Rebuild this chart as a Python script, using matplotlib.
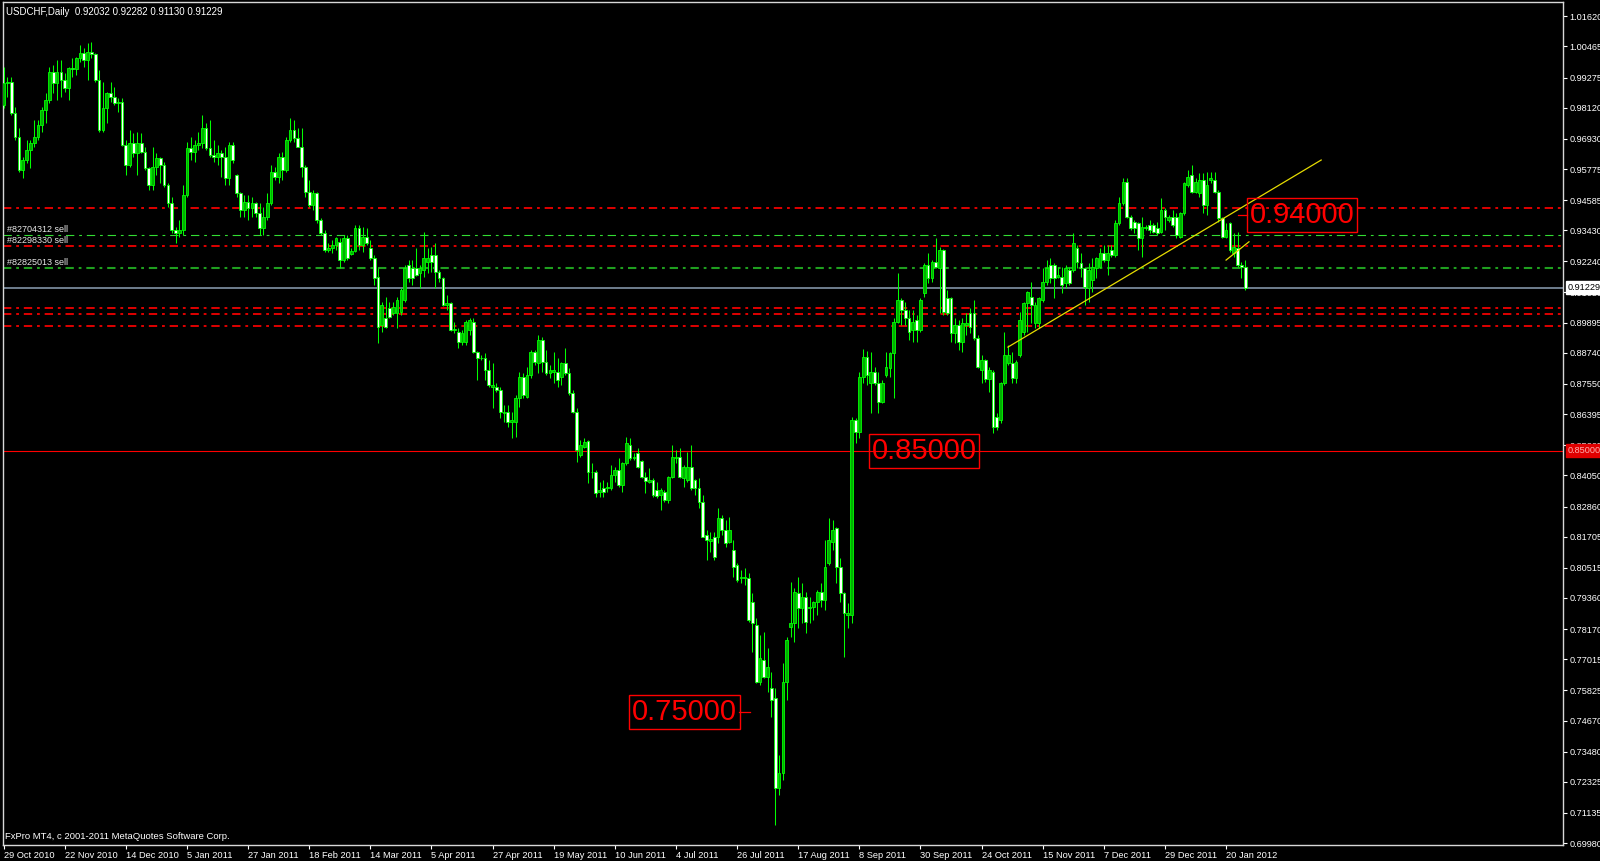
import matplotlib
matplotlib.use('Agg')
import matplotlib.pyplot as plt
import matplotlib.transforms as mtransforms
import numpy as np

plt.rcParams['font.family'] = ['Liberation Sans', 'DejaVu Sans']
plt.rcParams['lines.scale_dashes'] = False

# --- daily USDCHF bars, 29 Oct 2010 .. 27 Jan 2012 ---
open_ = [
    0.9823, 0.9906, 0.9912, 0.9791, 0.9701, 0.9574, 0.9612, 0.9650, 0.9676, 0.9701,
    0.9746, 0.9803, 0.9842, 0.9950, 0.9906, 0.9950, 0.9918, 0.9886, 0.9963, 0.9959,
    1.0001, 1.0023, 0.9995, 1.0027, 1.0018, 0.9918, 0.9727, 0.9810, 0.9867, 0.9854,
    0.9829, 0.9835, 0.9670, 0.9593, 0.9676, 0.9638, 0.9676, 0.9644, 0.9580, 0.9516,
    0.9587, 0.9619, 0.9593, 0.9516, 0.9446, 0.9344, 0.9334, 0.9344, 0.9478, 0.9657,
    0.9644, 0.9670, 0.9676, 0.9733, 0.9657, 0.9631, 0.9625, 0.9640, 0.9625, 0.9542,
    0.9670, 0.9555, 0.9485, 0.9421, 0.9453, 0.9427, 0.9446, 0.9408, 0.9351, 0.9395,
    0.9446, 0.9568, 0.9548, 0.9625, 0.9574, 0.9689, 0.9727, 0.9695, 0.9663, 0.9587,
    0.9491, 0.9440, 0.9485, 0.9382, 0.9331, 0.9268, 0.9274, 0.9287, 0.9300, 0.9229,
    0.9312, 0.9251, 0.9264, 0.9351, 0.9287, 0.9319, 0.9274, 0.9236, 0.9166, 0.8981,
    0.9006, 0.9044, 0.9025, 0.9025, 0.9032, 0.9076, 0.9210, 0.9198, 0.9198, 0.9178,
    0.9191, 0.9223, 0.9249, 0.9249, 0.9185, 0.9159, 0.9057, 0.9064, 0.8962, 0.8955,
    0.8917, 0.8917, 0.8962, 0.8993, 0.8879, 0.8853, 0.8853, 0.8808, 0.8745, 0.8745,
    0.8732, 0.8643, 0.8649, 0.8611, 0.8611, 0.8700, 0.8783, 0.8706, 0.8789, 0.8879,
    0.8834, 0.8923, 0.8840, 0.8796, 0.8802, 0.8802, 0.8783, 0.8834, 0.8796, 0.8719,
    0.8649, 0.8483, 0.8515, 0.8537, 0.8417, 0.8419, 0.8343, 0.8358, 0.8355, 0.8355,
    0.8407, 0.8426, 0.8368, 0.8451, 0.8521, 0.8470, 0.8489, 0.8460, 0.8400, 0.8381,
    0.8387, 0.8349, 0.8330, 0.8343, 0.8311, 0.8400, 0.8470, 0.8477, 0.8394, 0.8387,
    0.8438, 0.8387, 0.8356, 0.8305, 0.8177, 0.8155, 0.8171, 0.8171, 0.8241, 0.8196,
    0.8151, 0.8120, 0.8062, 0.8011, 0.8011, 0.8011, 0.7922, 0.7833, 0.7616, 0.7699,
    0.7635, 0.7590, 0.7552, 0.7207, 0.7265, 0.7616, 0.7826, 0.7839, 0.7954, 0.7896,
    0.7941, 0.7896, 0.7903, 0.7922, 0.7960, 0.7928, 0.8069, 0.8151, 0.8202, 0.8056,
    0.7954, 0.7871, 0.7871, 0.8617, 0.8572, 0.8780, 0.8860, 0.8757, 0.8802, 0.8757,
    0.8687, 0.8790, 0.8815, 0.8872, 0.8993, 0.9076, 0.9038, 0.9006, 0.8961, 0.9000,
    0.8961, 0.9102, 0.9210, 0.9159, 0.9223, 0.9197, 0.9268, 0.9083, 0.9083, 0.8949,
    0.8981, 0.8917, 0.8981, 0.9025, 0.9025, 0.8929, 0.8808, 0.8847, 0.8775, 0.8802,
    0.8630, 0.8617, 0.8757, 0.8834, 0.8834, 0.8777, 0.8866, 0.8955, 0.9063, 0.9089,
    0.8987, 0.8987, 0.9076, 0.9146, 0.9210, 0.9210, 0.9166, 0.9166, 0.9140, 0.9191,
    0.9191, 0.9274, 0.9217, 0.9197, 0.9121, 0.9153, 0.9197, 0.9204, 0.9255, 0.9229,
    0.9268, 0.9249, 0.9370, 0.9446, 0.9529, 0.9395, 0.9376, 0.9370, 0.9312, 0.9351,
    0.9363, 0.9363, 0.9351, 0.9338, 0.9421, 0.9382, 0.9395, 0.9395, 0.9319, 0.9408,
    0.9516, 0.9555, 0.9491, 0.9484, 0.9535, 0.9440, 0.9535, 0.9535, 0.9491, 0.9389,
    0.9319, 0.9370, 0.9255, 0.9274, 0.9210, 0.92032,
]
high = [
    0.9969, 0.9931, 0.9931, 0.9816, 0.9733, 0.9625, 0.9689, 0.9689, 0.9765, 0.9765,
    0.9816, 0.9867, 0.9969, 0.9976, 0.9995, 0.9995, 0.9944, 0.9969, 1.0001, 1.0005,
    1.0052, 1.0039, 1.0059, 1.0062, 1.0020, 0.9957, 0.9912, 0.9874, 0.9912, 0.9893,
    0.9848, 0.9848, 0.9689, 0.9727, 0.9714, 0.9721, 0.9714, 0.9663, 0.9584, 0.9663,
    0.9638, 0.9625, 0.9606, 0.9523, 0.9472, 0.9357, 0.9382, 0.9516, 0.9682, 0.9701,
    0.9689, 0.9721, 0.9784, 0.9752, 0.9765, 0.9689, 0.9670, 0.9650, 0.9663, 0.9682,
    0.9682, 0.9560, 0.9490, 0.9478, 0.9478, 0.9472, 0.9453, 0.9446, 0.9433, 0.9485,
    0.9593, 0.9587, 0.9638, 0.9644, 0.9701, 0.9772, 0.9765, 0.9733, 0.9733, 0.9593,
    0.9536, 0.9497, 0.9490, 0.9389, 0.9344, 0.9293, 0.9306, 0.9319, 0.9312, 0.9325,
    0.9325, 0.9274, 0.9363, 0.9363, 0.9357, 0.9351, 0.9306, 0.9249, 0.9198, 0.9070,
    0.9089, 0.9070, 0.9070, 0.9089, 0.9121, 0.9210, 0.9229, 0.9229, 0.9274, 0.9210,
    0.9338, 0.9274, 0.9280, 0.9293, 0.9191, 0.9166, 0.9095, 0.9070, 0.8993, 0.8968,
    0.8962, 0.9000, 0.9006, 0.9006, 0.8883, 0.8866, 0.8872, 0.8847, 0.8834, 0.8757,
    0.8745, 0.8674, 0.8674, 0.8649, 0.8713, 0.8802, 0.8796, 0.8821, 0.8885, 0.8885,
    0.8942, 0.8936, 0.8885, 0.8827, 0.8879, 0.8853, 0.8840, 0.8891, 0.8815, 0.8732,
    0.8662, 0.8540, 0.8547, 0.8540, 0.8451, 0.8426, 0.8381, 0.8387, 0.8381, 0.8445,
    0.8438, 0.8470, 0.8455, 0.8553, 0.8550, 0.8489, 0.8511, 0.8464, 0.8419, 0.8432,
    0.8394, 0.8381, 0.8355, 0.8349, 0.8404, 0.8521, 0.8502, 0.8509, 0.8445, 0.8496,
    0.8521, 0.8390, 0.8394, 0.8330, 0.8196, 0.8190, 0.8190, 0.8279, 0.8253, 0.8234,
    0.8247, 0.8158, 0.8069, 0.8043, 0.8049, 0.8030, 0.7954, 0.7858, 0.7794, 0.7807,
    0.7743, 0.7654, 0.7590, 0.7335, 0.7686, 0.7788, 0.7998, 0.7973, 0.8017, 0.7992,
    0.7960, 0.7941, 0.7925, 0.7966, 0.7992, 0.8158, 0.8241, 0.8234, 0.8209, 0.8088,
    0.7960, 0.7916, 0.8630, 0.8623, 0.8800, 0.8890, 0.8880, 0.8879, 0.8821, 0.8802,
    0.8770, 0.8879, 0.8879, 0.9006, 0.9178, 0.9083, 0.9070, 0.9038, 0.9038, 0.9019,
    0.9083, 0.9217, 0.9255, 0.9229, 0.9312, 0.9280, 0.9272, 0.9115, 0.9089, 0.9006,
    0.9000, 0.9006, 0.9025, 0.9044, 0.9076, 0.8942, 0.8866, 0.8850, 0.8821, 0.8808,
    0.8643, 0.8764, 0.8955, 0.8904, 0.8879, 0.8847, 0.9032, 0.9070, 0.9112, 0.9146,
    0.9070, 0.9089, 0.9197, 0.9229, 0.9236, 0.9217, 0.9204, 0.9204, 0.9210, 0.9204,
    0.9331, 0.9287, 0.9255, 0.9204, 0.9217, 0.9236, 0.9242, 0.9274, 0.9287, 0.9287,
    0.9287, 0.9382, 0.9472, 0.9542, 0.9542, 0.9401, 0.9382, 0.9376, 0.9395, 0.9363,
    0.9382, 0.9370, 0.9376, 0.9465, 0.9427, 0.9401, 0.9421, 0.9408, 0.9414, 0.9529,
    0.9574, 0.9593, 0.9542, 0.9561, 0.9561, 0.9567, 0.9567, 0.9567, 0.9497, 0.9395,
    0.9370, 0.9376, 0.9331, 0.9338, 0.9223, 0.92282,
]
low = [
    0.9810, 0.9854, 0.9784, 0.9689, 0.9568, 0.9542, 0.9599, 0.9580, 0.9663, 0.9689,
    0.9721, 0.9752, 0.9829, 0.9867, 0.9842, 0.9854, 0.9874, 0.9842, 0.9931, 0.9937,
    0.9988, 0.9969, 0.9918, 1.0001, 0.9912, 0.9721, 0.9721, 0.9752, 0.9835, 0.9823,
    0.9797, 0.9665, 0.9555, 0.9587, 0.9625, 0.9555, 0.9638, 0.9574, 0.9497, 0.9497,
    0.9555, 0.9523, 0.9510, 0.9433, 0.9331, 0.9293, 0.9319, 0.9325, 0.9472, 0.9612,
    0.9606, 0.9650, 0.9657, 0.9650, 0.9625, 0.9606, 0.9593, 0.9548, 0.9516, 0.9516,
    0.9599, 0.9472, 0.9395, 0.9395, 0.9382, 0.9395, 0.9395, 0.9325, 0.9325, 0.9382,
    0.9440, 0.9536, 0.9523, 0.9536, 0.9568, 0.9682, 0.9682, 0.9660, 0.9548, 0.9472,
    0.9433, 0.9421, 0.9370, 0.9325, 0.9261, 0.9259, 0.9255, 0.9268, 0.9198, 0.9223,
    0.9229, 0.9249, 0.9261, 0.9268, 0.9261, 0.9287, 0.9229, 0.9134, 0.8910, 0.8955,
    0.8968, 0.9006, 0.9019, 0.8968, 0.9019, 0.9070, 0.9146, 0.9134, 0.9168, 0.9121,
    0.9166, 0.9178, 0.9185, 0.9121, 0.9146, 0.9053, 0.9038, 0.8958, 0.8949, 0.8891,
    0.8904, 0.8904, 0.8942, 0.8872, 0.8770, 0.8847, 0.8770, 0.8745, 0.8662, 0.8725,
    0.8623, 0.8611, 0.8592, 0.8547, 0.8553, 0.8668, 0.8700, 0.8700, 0.8777, 0.8827,
    0.8796, 0.8802, 0.8789, 0.8777, 0.8757, 0.8745, 0.8751, 0.8790, 0.8713, 0.8643,
    0.8457, 0.8477, 0.8509, 0.8375, 0.8394, 0.8324, 0.8324, 0.8324, 0.8343, 0.8349,
    0.8381, 0.8362, 0.8343, 0.8445, 0.8464, 0.8464, 0.8432, 0.8394, 0.8336, 0.8375,
    0.8324, 0.8317, 0.8273, 0.8304, 0.8298, 0.8394, 0.8451, 0.8394, 0.8362, 0.8381,
    0.8350, 0.8330, 0.8279, 0.8168, 0.8081, 0.8113, 0.8081, 0.8145, 0.8177, 0.8132,
    0.8145, 0.8017, 0.7998, 0.7992, 0.7986, 0.7845, 0.7730, 0.7612, 0.7603, 0.7628,
    0.7577, 0.7482, 0.7067, 0.7182, 0.7239, 0.7545, 0.7788, 0.7769, 0.7820, 0.7839,
    0.7801, 0.7839, 0.7852, 0.7871, 0.7903, 0.7890, 0.8062, 0.8120, 0.7992, 0.7922,
    0.7711, 0.7820, 0.7839, 0.8528, 0.8550, 0.8760, 0.8750, 0.8643, 0.8751, 0.8643,
    0.8681, 0.8783, 0.8783, 0.8700, 0.8987, 0.8981, 0.8981, 0.8923, 0.8917, 0.8917,
    0.8955, 0.9089, 0.9140, 0.9146, 0.9197, 0.9025, 0.9019, 0.9019, 0.8917, 0.8910,
    0.8885, 0.8879, 0.8942, 0.8949, 0.8923, 0.8815, 0.8757, 0.8764, 0.8725, 0.8566,
    0.8579, 0.8604, 0.8752, 0.8828, 0.8757, 0.8757, 0.8859, 0.8942, 0.8955, 0.8987,
    0.8968, 0.8968, 0.9070, 0.9134, 0.9140, 0.9083, 0.9159, 0.9102, 0.9121, 0.9134,
    0.9185, 0.9197, 0.9166, 0.9057, 0.9070, 0.9108, 0.9159, 0.9197, 0.9223, 0.9172,
    0.9242, 0.9242, 0.9363, 0.9440, 0.9389, 0.9344, 0.9331, 0.9268, 0.9242, 0.9344,
    0.9331, 0.9331, 0.9325, 0.9331, 0.9344, 0.9376, 0.9357, 0.9312, 0.9312, 0.9401,
    0.9510, 0.9484, 0.9484, 0.9472, 0.9408, 0.9401, 0.9523, 0.9484, 0.9376, 0.9312,
    0.9312, 0.9261, 0.9242, 0.9204, 0.9160, 0.91130,
]
close = [
    0.9906, 0.9912, 0.9791, 0.9701, 0.9574, 0.9612, 0.9650, 0.9676, 0.9701, 0.9746,
    0.9803, 0.9842, 0.9950, 0.9906, 0.9950, 0.9918, 0.9886, 0.9963, 0.9959, 1.0001,
    1.0023, 0.9995, 1.0027, 1.0018, 0.9918, 0.9727, 0.9810, 0.9867, 0.9854, 0.9829,
    0.9835, 0.9670, 0.9593, 0.9676, 0.9638, 0.9676, 0.9644, 0.9580, 0.9516, 0.9587,
    0.9619, 0.9593, 0.9516, 0.9446, 0.9344, 0.9334, 0.9344, 0.9478, 0.9657, 0.9644,
    0.9670, 0.9676, 0.9733, 0.9657, 0.9631, 0.9625, 0.9640, 0.9625, 0.9542, 0.9670,
    0.9612, 0.9485, 0.9421, 0.9453, 0.9427, 0.9446, 0.9408, 0.9351, 0.9395, 0.9446,
    0.9568, 0.9548, 0.9625, 0.9574, 0.9689, 0.9727, 0.9695, 0.9663, 0.9587, 0.9491,
    0.9440, 0.9485, 0.9382, 0.9331, 0.9268, 0.9274, 0.9287, 0.9312, 0.9229, 0.9312,
    0.9236, 0.9264, 0.9351, 0.9287, 0.9319, 0.9293, 0.9236, 0.9159, 0.8974, 0.9057,
    0.8974, 0.9013, 0.9051, 0.9076, 0.9115, 0.9198, 0.9159, 0.9159, 0.9172, 0.9198,
    0.9236, 0.9236, 0.9223, 0.9185, 0.9159, 0.9057, 0.9064, 0.8962, 0.8966, 0.8917,
    0.8949, 0.8993, 0.9000, 0.8879, 0.8853, 0.8856, 0.8808, 0.8751, 0.8751, 0.8732,
    0.8649, 0.8649, 0.8611, 0.8617, 0.8700, 0.8783, 0.8713, 0.8789, 0.8879, 0.8840,
    0.8923, 0.8840, 0.8796, 0.8808, 0.8808, 0.8770, 0.8834, 0.8796, 0.8719, 0.8649,
    0.8502, 0.8521, 0.8534, 0.8419, 0.8419, 0.8336, 0.8349, 0.8343, 0.8362, 0.8407,
    0.8426, 0.8368, 0.8451, 0.8528, 0.8470, 0.8477, 0.8438, 0.8400, 0.8385, 0.8387,
    0.8330, 0.8327, 0.8349, 0.8311, 0.8400, 0.8477, 0.8477, 0.8400, 0.8438, 0.8438,
    0.8355, 0.8356, 0.8305, 0.8171, 0.8158, 0.8160, 0.8094, 0.8241, 0.8196, 0.8145,
    0.8196, 0.8056, 0.8005, 0.8015, 0.8017, 0.7852, 0.7839, 0.7616, 0.7705, 0.7635,
    0.7673, 0.7545, 0.7207, 0.7265, 0.7616, 0.7775, 0.7839, 0.7960, 0.7896, 0.7941,
    0.7845, 0.7903, 0.7922, 0.7960, 0.7928, 0.8056, 0.8158, 0.8196, 0.8056, 0.7954,
    0.7877, 0.7877, 0.8617, 0.8572, 0.8780, 0.8860, 0.8790, 0.8802, 0.8757, 0.8687,
    0.8757, 0.8821, 0.8872, 0.8993, 0.9076, 0.9038, 0.9006, 0.8955, 0.8993, 0.8961,
    0.9076, 0.9210, 0.9159, 0.9223, 0.9204, 0.9268, 0.9032, 0.9025, 0.8949, 0.8981,
    0.8917, 0.8987, 0.8987, 0.8974, 0.8929, 0.8821, 0.8847, 0.8775, 0.8808, 0.8592,
    0.8592, 0.8757, 0.8866, 0.8866, 0.8777, 0.8840, 0.9000, 0.9063, 0.9108, 0.9057,
    0.9057, 0.9083, 0.9146, 0.9197, 0.9159, 0.9159, 0.9172, 0.9134, 0.9197, 0.9140,
    0.9293, 0.9223, 0.9197, 0.9127, 0.9191, 0.9204, 0.9236, 0.9255, 0.9229, 0.9255,
    0.9249, 0.9370, 0.9446, 0.9529, 0.9395, 0.9351, 0.9351, 0.9312, 0.9357, 0.9357,
    0.9344, 0.9338, 0.9331, 0.9421, 0.9395, 0.9395, 0.9363, 0.9325, 0.9408, 0.9523,
    0.9548, 0.9491, 0.9529, 0.9535, 0.9440, 0.9516, 0.9542, 0.9491, 0.9389, 0.9319,
    0.9344, 0.9268, 0.9280, 0.9210, 0.9203, 0.91229,
]

date_labels = ['29 Oct 2010', '22 Nov 2010', '14 Dec 2010', '5 Jan 2011', '27 Jan 2011',
               '18 Feb 2011', '14 Mar 2011', '5 Apr 2011', '27 Apr 2011', '19 May 2011',
               '10 Jun 2011', '4 Jul 2011', '26 Jul 2011', '17 Aug 2011', '8 Sep 2011',
               '30 Sep 2011', '24 Oct 2011', '15 Nov 2011', '7 Dec 2011', '29 Dec 2011',
               '20 Jan 2012']
date_bars = list(range(0, 321, 16))

price_ticks = [1.01620, 1.00465, 0.99275, 0.98120, 0.96930, 0.95775, 0.94585, 0.93430,
               0.92240, 0.91050, 0.89895, 0.88740, 0.87550, 0.86395, 0.85205, 0.84050,
               0.82860, 0.81705, 0.80515, 0.79360, 0.78170, 0.77015, 0.75825, 0.74670,
               0.73480, 0.72325, 0.71135, 0.69980]

# horizontal levels
red_levels = [0.9427, 0.9283, 0.9046, 0.9024, 0.8977]
order_levels = [0.9324, 0.9200]
order_labels = ['#82704312 sell', '#82298330 sell', '#82825013 sell']
order_label_prices = [0.9324, 0.9283, 0.9200]
bid = 0.91229
target_line = 0.85000

# text objects (bar, price, text)
notes = [(326.2, 0.9400, '0.94000'), (227.2, 0.8500, '0.85000'), (164.4, 0.7500, '0.75000')]
trend_x = [262.9, 344.9]
trend_y = [0.8896, 0.9612]
trend2_x = [320.0, 326.0]
trend2_y = [0.9229, 0.9299]

o = np.array(open_)
h = np.array(high)
l = np.array(low)
c = np.array(close)
x = np.arange(len(c))

fg = 'white'
lime = '#00ff00'
dashdot = (0, (6, 3.5, 2, 3.5))

fig = plt.figure(figsize=(16, 8.61), dpi=100, facecolor='black')
ax = fig.add_axes([3 / 1600, 16 / 861, 1560 / 1600, 843 / 861])
ax.set_facecolor('black')
ax.set_xlim(-0.16, 408.2)
ax.set_ylim(0.69906, 1.02167)

# --- candles ---
ax.vlines(x, l, h, color=lime, lw=0.75, zorder=3)
up = c >= o
bottom = np.minimum(o, c)
height = np.maximum(np.abs(c - o), 0.00005)
ax.bar(x[up], height[up], bottom=bottom[up], width=0.72, color='#00b000',
       edgecolor=lime, linewidth=0.6, zorder=4)
ax.bar(x[~up], height[~up], bottom=bottom[~up], width=0.72, color='white',
       edgecolor=lime, linewidth=0.6, zorder=4)

# --- levels ---
for p in red_levels:
    ax.axhline(p, color='#e00000', lw=1.4, ls=dashdot, zorder=2)
ax.axhline(order_levels[0], color='#33dd33', lw=0.8, ls=dashdot, zorder=2)
ax.axhline(order_levels[1], color='#1f9f1f', lw=1.5, ls=dashdot, zorder=2)
ax.axhline(bid, color='#778899', lw=1.3, zorder=2)
ax.axhline(target_line, color='#ff0000', lw=0.8, zorder=2)

blend = mtransforms.blended_transform_factory(ax.transAxes, ax.transData)
for txt, p in zip(order_labels, order_label_prices):
    ax.text(0.0025, p + 0.0003, txt, transform=blend,
            fontsize=6.5, color='#e8e8e8', va='bottom', ha='left', zorder=5)

# --- trend lines ---
ax.plot(trend_x, trend_y, color='#e6dc00', lw=0.9, zorder=5)
ax.plot(trend2_x, trend2_y, color='#e6dc00', lw=0.9, zorder=5)

# --- text objects ---
for bx, p, txt in notes:
    ax.text(bx, p, txt, fontsize=21, color='#ff0000', ha='left', va='center', zorder=6,
            bbox=dict(boxstyle='square,pad=0.1', fc='none', ec='#ff0000', lw=1))
ax.plot([323.1, 325.6], [0.9400, 0.9400], color='#ff0000', lw=0.9, zorder=6)
ax.plot([192.6, 195.4], [0.7500, 0.7500], color='#ff0000', lw=0.9, zorder=6)

# --- axes styling ---
for s in ax.spines.values():
    s.set_color('#d8d8d8')
    s.set_linewidth(1)
ax.yaxis.tick_right()
ax.set_yticks(price_ticks)
ax.set_yticklabels([f'{v:.5f}' for v in price_ticks])
ax.tick_params(axis='y', colors=fg, labelcolor=fg, length=3, width=0.8, pad=1.5, labelsize=6.6)
ax.set_xticks(date_bars)
ax.set_xticklabels(date_labels)
ax.tick_params(axis='x', colors=fg, labelcolor=fg, length=3, width=0.8, pad=1.5, labelsize=6.7)
for lab in ax.get_xticklabels():
    lab.set_ha('left')

ax.text(1.0028, bid, f'{bid:.5f}', transform=blend, fontsize=6.6, color='black',
        ha='left', va='center', clip_on=False, zorder=10,
        bbox=dict(boxstyle='square,pad=0.2', fc='white', ec='white'))
ax.text(1.0028, target_line, f'{target_line:.5f}', transform=blend, fontsize=6.6, color='#ffb0b0',
        ha='left', va='center', clip_on=False, zorder=10,
        bbox=dict(boxstyle='square,pad=0.2', fc='#e00000', ec='#e00000'))

ax.text(0.002, 0.988, 'USDCHF,Daily  0.92032 0.92282 0.91130 0.91229', transform=ax.transAxes,
        fontsize=7, color=fg, ha='left', va='center')
ax.text(0.001, 0.0105, 'FxPro MT4, c 2001-2011 MetaQuotes Software Corp.', transform=ax.transAxes,
        fontsize=6.8, color=fg, ha='left', va='center')

fig.savefig('out.png', dpi=100, facecolor='black')
